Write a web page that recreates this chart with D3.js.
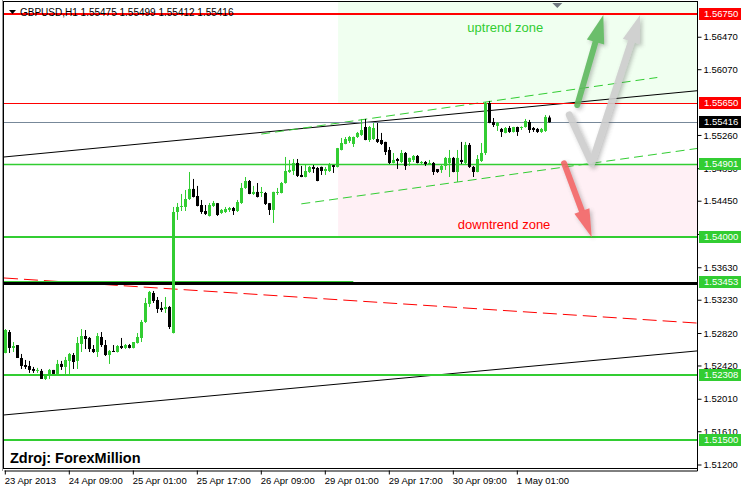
<!DOCTYPE html>
<html><head><meta charset="utf-8">
<script src="https://cdn.jsdelivr.net/npm/d3@7"></script>
<style>
html,body{margin:0;padding:0;background:#fff;}
svg{display:block;}
text{font-family:"Liberation Sans",Arial,sans-serif;}
</style></head><body>
<svg id="c" width="742" height="492"></svg>
<script>
// ---------------- DATA ----------------
const symbol = "GBPUSD", timeframe = "H1";
const opens = [1.52574,1.52832,1.52636,1.52672,1.52512,1.52426,1.52414,1.52377,1.52353,1.52353,
1.52254,1.52303,1.52365,1.52316,1.52439,1.52402,1.52476,1.52549,1.52476,1.52685,
1.52783,1.52759,1.52623,1.52586,1.52771,1.52672,1.52549,1.52599,1.52586,1.52660,
1.52636,1.52672,1.52636,1.52697,1.52759,1.52956,1.53178,1.53313,1.53227,1.53129,
1.53116,1.53141,1.52820,1.54311,1.54373,1.54373,1.54471,1.54595,1.54508,1.54397,
1.54323,1.54262,1.54385,1.54420,1.54299,1.54311,1.54336,1.54360,1.54323,1.54422,
1.54607,1.54693,1.54533,1.54558,1.54545,1.54545,1.54420,1.54336,1.54545,1.54545,
1.54668,1.54804,1.54816,1.54915,1.54767,1.54742,1.54804,1.54866,1.54853,1.54866,
1.54816,1.54816,1.54888,1.54866,1.55075,1.55149,1.55186,1.55149,1.55235,1.55260,
1.55358,1.55198,1.55210,1.55210,1.55198,1.55174,1.55075,1.54915,1.54964,1.54927,
1.55038,1.54927,1.54952,1.55001,1.54915,1.54927,1.54902,1.54915,1.54840,1.54829,
1.54878,1.54915,1.54977,1.54804,1.54952,1.54915,1.55137,1.54866,1.54804,1.54939,
1.55038,1.55654,1.55420,1.55371,1.55334,1.55285,1.55346,1.55297,1.55358,1.55346,
1.55358,1.55420,1.55346,1.55334,1.55297,1.55309,1.55475];
const highs = [1.52869,1.52857,1.52709,1.52672,1.52562,1.52488,1.52476,1.52402,1.52390,1.52377,
1.52303,1.52377,1.52365,1.52488,1.52476,1.52525,1.52574,1.52574,1.52771,1.52869,
1.52857,1.52771,1.52672,1.52820,1.52832,1.52734,1.52611,1.52672,1.52672,1.52759,
1.52685,1.52685,1.52709,1.52820,1.52981,1.53252,1.53338,1.53338,1.53264,1.53202,
1.53264,1.53153,1.54373,1.54422,1.54533,1.54582,1.54804,1.54718,1.54632,1.54459,
1.54397,1.54422,1.54447,1.54422,1.54348,1.54373,1.54373,1.54373,1.54459,1.54668,
1.54742,1.54705,1.54632,1.54668,1.54619,1.54558,1.54422,1.54560,1.54607,1.54681,
1.54989,1.54952,1.54964,1.54964,1.54878,1.54890,1.54878,1.54890,1.54866,1.54870,
1.54866,1.54915,1.54890,1.55100,1.55223,1.55235,1.55248,1.55240,1.55297,1.55457,
1.55457,1.55371,1.55408,1.55408,1.55285,1.55176,1.55112,1.55038,1.54977,1.55075,
1.55050,1.54980,1.55013,1.55013,1.54939,1.54939,1.54952,1.54927,1.54841,1.54890,
1.54989,1.55075,1.54989,1.55075,1.55174,1.55174,1.55161,1.54878,1.55013,1.55161,
1.55666,1.55679,1.55469,1.55420,1.55346,1.55358,1.55371,1.55360,1.55362,1.55365,
1.55457,1.55445,1.55358,1.55346,1.55346,1.55506,1.55499];
const lows = [1.52570,1.52574,1.52586,1.52512,1.52377,1.52377,1.52328,1.52328,1.52328,1.52254,
1.52241,1.52254,1.52316,1.52303,1.52365,1.52316,1.52316,1.52377,1.52377,1.52586,
1.52623,1.52586,1.52574,1.52525,1.52648,1.52537,1.52439,1.52586,1.52580,1.52623,
1.52623,1.52630,1.52630,1.52690,1.52709,1.52944,1.53141,1.53190,1.53067,1.53079,
1.53067,1.52869,1.52815,1.54213,1.54323,1.54323,1.54459,1.54490,1.54380,1.54287,
1.54274,1.54255,1.54373,1.54262,1.54287,1.54299,1.54311,1.54274,1.54311,1.54410,
1.54595,1.54530,1.54521,1.54490,1.54496,1.54397,1.54274,1.54176,1.54521,1.54540,
1.54660,1.54792,1.54767,1.54742,1.54740,1.54738,1.54792,1.54792,1.54690,1.54767,
1.54767,1.54804,1.54792,1.54860,1.55070,1.55145,1.55161,1.55112,1.55223,1.55248,
1.55195,1.55174,1.55198,1.55161,1.55137,1.55013,1.54902,1.54910,1.54841,1.54915,
1.54829,1.54878,1.54927,1.54910,1.54890,1.54878,1.54890,1.54767,1.54792,1.54792,
1.54829,1.54742,1.54800,1.54681,1.54902,1.54902,1.54853,1.54742,1.54800,1.54927,
1.55013,1.55405,1.55358,1.55309,1.55235,1.55280,1.55285,1.55290,1.55248,1.55321,
1.55350,1.55285,1.55297,1.55285,1.55285,1.55297,1.55412];
const closes = [1.52857,1.52636,1.52660,1.52512,1.52414,1.52402,1.52365,1.52353,1.52365,1.52254,
1.52303,1.52365,1.52316,1.52439,1.52402,1.52488,1.52562,1.52463,1.52697,1.52783,
1.52746,1.52623,1.52586,1.52783,1.52672,1.52549,1.52599,1.52586,1.52660,1.52636,
1.52672,1.52636,1.52709,1.52771,1.52956,1.53190,1.53326,1.53215,1.53116,1.53104,
1.53141,1.52894,1.54311,1.54373,1.54385,1.54471,1.54595,1.54496,1.54385,1.54311,
1.54287,1.54397,1.54422,1.54274,1.54336,1.54348,1.54360,1.54323,1.54434,1.54607,
1.54693,1.54533,1.54558,1.54496,1.54558,1.54410,1.54336,1.54558,1.54558,1.54668,
1.54816,1.54829,1.54915,1.54755,1.54742,1.54816,1.54866,1.54841,1.54693,1.54816,
1.54841,1.54902,1.54866,1.55098,1.55161,1.55210,1.55235,1.55235,1.55285,1.55321,
1.55198,1.55358,1.55346,1.55174,1.55149,1.55050,1.54915,1.54952,1.54939,1.55038,
1.54878,1.54977,1.55001,1.54915,1.54927,1.54902,1.54915,1.54804,1.54804,1.54878,
1.54977,1.54977,1.54804,1.54977,1.54927,1.55137,1.54866,1.54804,1.54964,1.55038,
1.55654,1.55408,1.55383,1.55408,1.55297,1.55346,1.55297,1.55358,1.55297,1.55358,
1.55432,1.55321,1.55321,1.55297,1.55334,1.55482,1.55416];

// time axis: bar index of each label and its text
const timeTickBars = [0,16,32,48,64,80,96,112,128];
const timeLabels = ["23 Apr 2013","24 Apr 09:00","25 Apr 01:00","25 Apr 17:00","26 Apr 09:00",
                    "29 Apr 01:00","29 Apr 17:00","30 Apr 09:00","1 May 01:00"];
// price axis
const priceTicks = [1.51200,1.51610,1.52010,1.52420,1.52820,1.53230,1.53630,1.54040,1.54450,1.54850,1.55260,1.56070,1.56470];
const priceMin = 1.51157, priceMax = 1.56898;
const visibleBars = 173.25;       // bar slots visible in the window
const firstBarOffset = 0.325;     // slot fraction before bar 0

// horizontal levels
const resistanceLevels = [1.56750, 1.55650];
const supportLevels = [1.54901, 1.54000, 1.53453, 1.52308, 1.51500];
const bidPrice = 1.55416;
const blackLevel = 1.53430;
const shortLevelEndBar = 87;      // 1.53453 green segment ends here

// trend lines: [barIndex, price] anchors
const trendUpperBlack = [[0, 1.54990], [170, 1.55791]];
const trendLowerBlack = [[0, 1.51812], [170, 1.52586]];
const trendRedDashed  = [[0, 1.53497], [170, 1.52952]];
const channelUpper    = [[64, 1.55271], [163, 1.55968]];
const channelLower    = [[74, 1.54411], [170, 1.55073]];

// zones
const zoneStartBar = 83.2;
const upZone = [1.55650, priceMax];
const downZone = [1.54000, 1.54901];
const upLabel = {text: "uptrend zone", bar: 125, price: 1.56590};
const downLabel = {text: "downtrend zone", bar: 124.7, price: 1.54163};

// arrows [barIndex, price]
const arrowUpGreen = [[143, 1.55629], [149.5, 1.56738]];
const arrowGrayV   = [[141, 1.55506], [146.6, 1.54911], [158.7, 1.56738]];
const arrowDownRed = [[139.7, 1.54911], [146.6, 1.54000]];

const sourceText = "Zdroj: ForexMillion";

// ---------------- LAYOUT ----------------
const plot = {l: 4, r: 697, t: 2, b: 468};
const svg = d3.select("#c");
const x = d3.scaleLinear().domain([-firstBarOffset, visibleBars - firstBarOffset]).range([plot.l, plot.r]);
const y = d3.scaleLinear().domain([priceMin, priceMax]).range([plot.b, plot.t]);
const fmt = d3.format(".5f");
const GREEN = "#32CD32", RED = "#FF0000";
const [xd0, xd1] = x.domain();

svg.append("rect").attr("width", 742).attr("height", 492).attr("fill", "#fff");

const defs = svg.append("defs");
defs.append("clipPath").attr("id", "clip").append("rect")
  .attr("x", plot.l).attr("y", plot.t).attr("width", plot.r - plot.l).attr("height", plot.b - plot.t);
const sh = defs.append("filter").attr("id", "shadow").attr("x", "-50%").attr("y", "-50%").attr("width", "200%").attr("height", "200%");
sh.append("feDropShadow").attr("dx", 2).attr("dy", 2).attr("stdDeviation", 2)
  .attr("flood-color", "#666").attr("flood-opacity", 0.45);

const gp = svg.append("g").attr("clip-path", "url(#clip)");

// zones
gp.append("rect").attr("x", x(zoneStartBar)).attr("width", x(xd1) - x(zoneStartBar))
  .attr("y", y(upZone[1])).attr("height", y(upZone[0]) - y(upZone[1])).attr("fill", "#F0FFF0");
gp.append("rect").attr("x", x(zoneStartBar)).attr("width", x(xd1) - x(zoneStartBar))
  .attr("y", y(downZone[1])).attr("height", y(downZone[0]) - y(downZone[1])).attr("fill", "#FFF0F5");
gp.append("text").attr("x", x(upLabel.bar)).attr("y", y(upLabel.price)).attr("dy", "0.35em")
  .attr("text-anchor", "middle").attr("font-size", 13).attr("fill", GREEN).text(upLabel.text);
gp.append("text").attr("x", x(downLabel.bar)).attr("y", y(downLabel.price)).attr("dy", "0.35em")
  .attr("text-anchor", "middle").attr("font-size", 13).attr("fill", RED).text(downLabel.text);

// header
const last = closes.length - 1;
svg.append("path").attr("d", "M9,10L16,10L12.5,14Z").attr("fill", "#000");
svg.append("text").attr("x", 20).attr("y", 16).attr("font-size", 10).attr("fill", "#000")
  .text(`${symbol},${timeframe}  ${fmt(opens[last])} ${fmt(highs[last])} ${fmt(lows[last])} ${fmt(closes[last])}`);

// line helpers
function extLine(a, extendLeft, extendRight) {
  const s = (a[1][1] - a[0][1]) / (a[1][0] - a[0][0]);
  const i0 = extendLeft ? xd0 : a[0][0];
  const i1 = extendRight ? xd1 : a[1][0];
  return [[i0, a[0][1] + s * (i0 - a[0][0])], [i1, a[0][1] + s * (i1 - a[0][0])]];
}
function drawSeg(seg, color, w, dash) {
  gp.append("line").attr("x1", x(seg[0][0])).attr("y1", y(seg[0][1]))
    .attr("x2", x(seg[1][0])).attr("y2", y(seg[1][1]))
    .attr("stroke", color).attr("stroke-width", w).attr("stroke-dasharray", dash || null);
}
function hLine(price, color, w, i0, i1) {
  const yy = Math.round(y(price)) + (w % 2 ? 0.5 : 0);
  gp.append("line").attr("x1", x(i0 === undefined ? xd0 : i0)).attr("x2", x(i1 === undefined ? xd1 : i1))
    .attr("y1", yy).attr("y2", yy).attr("stroke", color).attr("stroke-width", w);
}

// trend lines
drawSeg(extLine(trendUpperBlack, true, true), "#000", 1);
drawSeg(extLine(trendLowerBlack, true, true), "#000", 1);
drawSeg(extLine(trendRedDashed, true, true), RED, 1, "14,6");
drawSeg(extLine(channelUpper, false, false), GREEN, 1, "9,5");
drawSeg(extLine(channelLower, false, true), GREEN, 1, "9,5");

// horizontal levels
hLine(resistanceLevels[0], RED, 2);
hLine(resistanceLevels[1], RED, 1);
hLine(bidPrice, "#778899", 1);
hLine(supportLevels[0], GREEN, 1.5);
hLine(supportLevels[1], GREEN, 2);
hLine(supportLevels[2], GREEN, 2, xd0, shortLevelEndBar);
hLine(blackLevel, "#000", 3);
hLine(supportLevels[3], GREEN, 2);
hLine(supportLevels[4], GREEN, 2);

// candles
const bars = d3.range(closes.length);
const col = i => closes[i] >= opens[i] ? GREEN : "#000";
gp.append("g").selectAll("line").data(bars).join("line")
  .attr("x1", i => Math.round(x(i)) + 0.5).attr("x2", i => Math.round(x(i)) + 0.5)
  .attr("y1", i => y(highs[i])).attr("y2", i => y(lows[i]))
  .attr("stroke", col).attr("stroke-width", 1);
gp.append("g").selectAll("rect").data(bars).join("rect")
  .attr("x", i => Math.round(x(i)) - 1).attr("width", 3)
  .attr("y", i => y(Math.max(opens[i], closes[i])))
  .attr("height", i => Math.max(1, y(Math.min(opens[i], closes[i])) - y(Math.max(opens[i], closes[i]))))
  .attr("fill", col);

// arrows
function arrow(pts, color, shaftW, headL, headW) {
  const P = pts.map(d => [x(d[0]), y(d[1])]);
  const n = P.length, tip = P[n - 1], prev = P[n - 2];
  const dx = tip[0] - prev[0], dy = tip[1] - prev[1], len = Math.hypot(dx, dy);
  const ux = dx / len, uy = dy / len;
  const base = [tip[0] - ux * headL, tip[1] - uy * headL];
  const g = svg.append("g").attr("filter", "url(#shadow)").attr("opacity", 0.9);
  g.append("path").attr("d", d3.line()(P.slice(0, n - 1).concat([[base[0] + ux * 2, base[1] + uy * 2]])))
    .attr("fill", "none").attr("stroke", color).attr("stroke-width", shaftW)
    .attr("stroke-linecap", "round").attr("stroke-linejoin", "round");
  const px = -uy, py = ux;
  g.append("path").attr("d", `M${tip[0]},${tip[1]}L${base[0] + px * headW},${base[1] + py * headW}L${base[0] - px * headW},${base[1] - py * headW}Z`)
    .attr("fill", color);
}
arrow(arrowUpGreen, "#5DB85D", 6, 28, 9);
arrow(arrowGrayV, "#CDCDCD", 7, 28, 9);
arrow(arrowDownRed, "#F26565", 6, 28, 8);

// shift marker
const sx = x(closes.length + 1);
svg.append("path").attr("d", `M${sx - 5},3L${sx + 5},3L${sx},8Z`).attr("fill", "#707880");

// frame
svg.append("rect").attr("x", plot.l - 0.5).attr("y", plot.t - 0.5).attr("width", plot.r - plot.l + 1).attr("height", plot.b - plot.t + 1)
  .attr("fill", "none").attr("stroke", "#000").attr("stroke-width", 1);
svg.append("line").attr("x1", 2.5).attr("x2", 2.5).attr("y1", 0).attr("y2", 471).attr("stroke", "#999");

// axes
const yAxis = d3.axisRight(y).tickValues(priceTicks).tickFormat(fmt).tickSize(4).tickSizeOuter(0).tickPadding(2);
const ya = svg.append("g").attr("transform", `translate(${plot.r + 0.5},0)`).call(yAxis);
ya.select(".domain").attr("d", `M0,${plot.t - 1}V${plot.b + 3}`).attr("stroke", "#000");
ya.selectAll("text").attr("font-size", 9.5).attr("fill", "#000").attr("font-family", "Liberation Sans, Arial, sans-serif");

const xAxis = d3.axisBottom(x).tickValues(timeTickBars).tickFormat((d, i) => timeLabels[i]).tickSize(4).tickSizeOuter(0);
const xa = svg.append("g").attr("transform", `translate(0,${plot.b + 2.5})`).call(xAxis);
xa.select(".domain").attr("stroke", "#000");
xa.selectAll(".tick line").attr("transform", "translate(-0.5,0)");
xa.selectAll("text").attr("text-anchor", "start").attr("x", -1).attr("font-size", 9.5).attr("fill", "#000")
  .attr("font-family", "Liberation Sans, Arial, sans-serif");

// price labels on the axis
const tags = [
  {p: resistanceLevels[0], c: RED}, {p: resistanceLevels[1], c: RED}, {p: bidPrice, c: "#000"},
  {p: supportLevels[0], c: GREEN}, {p: supportLevels[1], c: GREEN}, {p: supportLevels[2], c: GREEN},
  {p: supportLevels[3], c: GREEN}, {p: supportLevels[4], c: GREEN}
];
const tg = svg.append("g").selectAll("g").data(tags).join("g")
  .attr("transform", d => `translate(${plot.r + 2},${Math.round(y(d.p))})`);
tg.append("rect").attr("x", 0).attr("y", -6).attr("width", 42).attr("height", 12).attr("fill", d => d.c);
tg.append("text").attr("x", 5).attr("dy", "0.35em").attr("font-size", 9.5).attr("fill", "#fff").text(d => fmt(d.p));

// source
svg.append("text").attr("x", 10).attr("y", 463).attr("font-size", 14.5).attr("font-weight", "bold")
  .attr("fill", "#000").text(sourceText);
</script>
</body></html>
